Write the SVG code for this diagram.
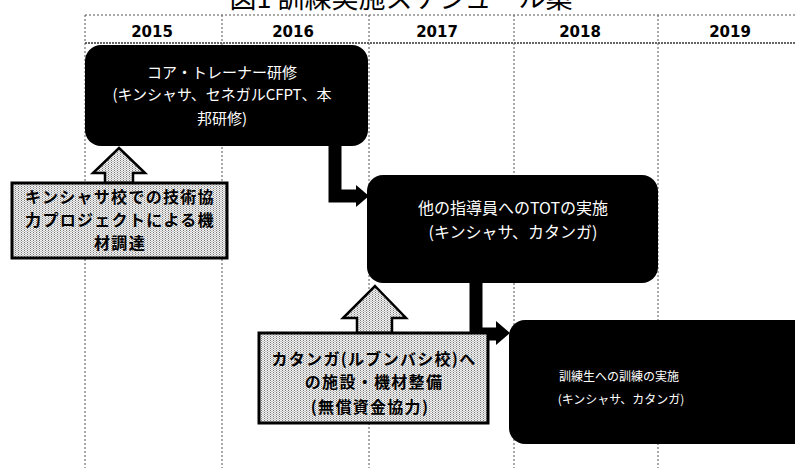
<svg xmlns="http://www.w3.org/2000/svg" width="795" height="468" viewBox="0 0 795 468">
<style>
.grid{stroke:#555;stroke-width:1;stroke-dasharray:2 2;fill:none}
.gridh{stroke:#333;stroke-width:1.5;stroke-dasharray:2 1;fill:none}
.year{font-family:"DejaVu Sans",sans-serif;font-weight:bold;font-size:15px;fill:#000;text-anchor:middle}
.box{fill:#000}
.wt{font-family:"Noto Sans CJK JP",sans-serif;fill:#fff;text-anchor:middle}
.call{fill:url(#dots);stroke:#000;stroke-width:3}
.uarr{fill:url(#dots);stroke:#000;stroke-width:2.5;stroke-linejoin:miter}
.bt{font-family:"Noto Sans CJK JP",sans-serif;font-weight:bold;font-size:16px;letter-spacing:1.3px;fill:#000;text-anchor:middle}
.conn{stroke:#000;stroke-width:13;fill:none;stroke-linejoin:miter}
.title{font-family:"Noto Sans CJK JP",sans-serif;font-size:27px;fill:#000;text-anchor:middle}
</style>
<defs>
<pattern id="dots" width="3" height="2" patternUnits="userSpaceOnUse">
<rect width="3" height="2" fill="#f2f2f2"/>
<rect x="0" y="0" width="1" height="1" fill="#777"/>
<rect x="1.5" y="1" width="1" height="1" fill="#999"/>
</pattern>
</defs>
<rect width="795" height="468" fill="#fff"/>
<text class="title" x="401" y="8">図1 訓練実施スケジュール案</text>
<g id="grid">
<line class="grid" x1="85" y1="15" x2="795" y2="15"/>
<line class="gridh" x1="85" y1="43" x2="795" y2="43"/>
<line class="grid" x1="85" y1="15" x2="85" y2="468"/>
<line class="grid" x1="222" y1="15" x2="222" y2="468"/>
<line class="grid" x1="369" y1="15" x2="369" y2="468"/>
<line class="grid" x1="514" y1="15" x2="514" y2="468"/>
<line class="grid" x1="658" y1="15" x2="658" y2="468"/>
<text class="year" x="152" y="37">2015</text>
<text class="year" x="293" y="37">2016</text>
<text class="year" x="437" y="37">2017</text>
<text class="year" x="580" y="37">2018</text>
<text class="year" x="730" y="37">2019</text>
</g>
<g id="connectors">
<path class="conn" d="M335,146 V196 H358"/>
<polygon points="356,185 369,196 356,207" fill="#000"/>
<path class="conn" d="M476,283 V334 H498"/>
<polygon points="496,321 510,333 496,345" fill="#000"/>
<polygon class="uarr" points="119,148 145,173 133,173 133,183 105,183 105,173 93,173"/>
<polygon class="uarr" points="375,286 406,318 392,318 392,333 357,333 357,318 343,318"/>
</g>
<g id="core">
<rect class="box" x="85" y="45" width="283" height="101" rx="16"/>
<text class="wt" x="222" y="78" font-size="15">コア・トレーナー研修</text>
<text class="wt" x="222" y="100" font-size="15">(キンシャサ、セネガルCFPT、本</text>
<text class="wt" x="222" y="124" font-size="15">邦研修)</text>
</g>
<g id="tot">
<rect class="box" x="367" y="175" width="291" height="108" rx="16"/>
<text class="wt" x="513" y="214" font-size="16">他の指導員へのTOTの実施</text>
<text class="wt" x="513" y="238" font-size="16">(キンシャサ、カタンガ)</text>
</g>
<g id="trainees">
<rect class="box" x="509" y="320" width="300" height="124" rx="16"/>
<text class="wt" x="619" y="381" font-size="12">訓練生への訓練の実施</text>
<text class="wt" x="621" y="404" font-size="12">(キンシャサ、カタンガ)</text>
</g>
<g id="callout1">
<rect class="call" x="12" y="183" width="215" height="75"/>
<text class="bt" x="120" y="203">キンシャサ校での技術協</text>
<text class="bt" x="120" y="226">力プロジェクトによる機</text>
<text class="bt" x="120" y="249">材調達</text>
</g>
<g id="callout2">
<rect class="call" x="259" y="333" width="229" height="90"/>
<text class="bt" x="374" y="365">カタンガ(ルブンバシ校)へ</text>
<text class="bt" x="374" y="388">の施設・機材整備</text>
<text class="bt" x="370" y="413">(無償資金協力)</text>
</g>
</svg>
